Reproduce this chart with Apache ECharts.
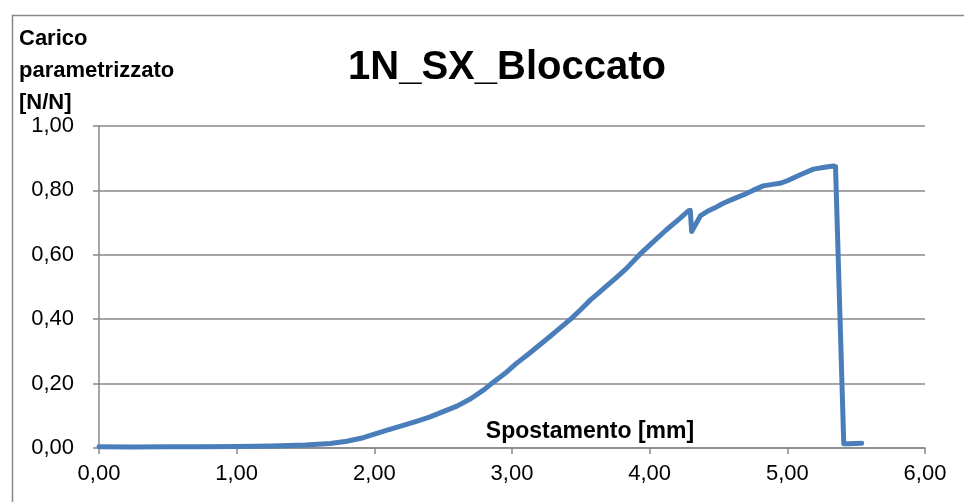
<!DOCTYPE html>
<html>
<head>
<meta charset="utf-8">
<script src="https://cdn.jsdelivr.net/npm/echarts@6/dist/echarts.min.js"></script>
<style>
html,body{margin:0;padding:0;background:#fff;}
#c{width:964px;height:502px;}
</style>
</head>
<body>
<div id="c"></div>
<script>
const titleText = '1N_SX_Bloccato';
const yAxisName = 'Carico\nparametrizzato\n[N/N]';
const xAxisName = 'Spostamento [mm]';
const displacement = [0.00,0.25,0.50,0.75,1.00,1.25,1.50,1.68,1.80,1.92,2.00,2.10,2.21,2.30,2.40,2.50,2.60,2.70,2.80,2.86,2.95,3.03,3.12,3.20,3.28,3.35,3.43,3.50,3.57,3.63,3.69,3.76,3.83,3.93,4.00,4.12,4.22,4.28,4.295,4.305,4.37,4.42,4.47,4.535,4.60,4.68,4.75,4.825,4.88,4.947,5.00,5.09,5.19,5.26,5.334,5.35,5.36,5.41,5.45,5.54];
const load = [0.004,0.003,0.004,0.004,0.005,0.006,0.009,0.014,0.021,0.032,0.043,0.056,0.070,0.082,0.096,0.113,0.130,0.153,0.182,0.203,0.232,0.262,0.292,0.320,0.348,0.373,0.402,0.430,0.460,0.482,0.504,0.530,0.557,0.602,0.630,0.677,0.713,0.736,0.738,0.672,0.722,0.735,0.745,0.760,0.772,0.786,0.800,0.814,0.818,0.822,0.830,0.848,0.866,0.871,0.876,0.874,0.870,0.013,0.013,0.015];

const FONT = '"Liberation Sans", Arial, sans-serif';
const fmt = v => v.toFixed(2).replace('.', ',');
const data = displacement.map((x, i) => [x, load[i]]);

const chart = echarts.init(document.getElementById('c'), null, {renderer: 'canvas'});
chart.setOption({
  animation: false,
  backgroundColor: '#fff',
  grid: {left: 99, right: 39, top: 126, bottom: 54, containLabel: false, outerBoundsMode: 'none'},
  xAxis: {
    type: 'value', min: 0, max: 6, interval: 1,
    axisLine: {show: true, onZero: false, lineStyle: {color: '#888', width: 1.5}},
    axisTick: {show: true, length: 6, lineStyle: {color: '#888', width: 1.5}},
    axisLabel: {formatter: fmt, color: '#000', fontSize: 22, fontFamily: FONT, margin: 15},
    splitLine: {show: false}
  },
  yAxis: {
    type: 'value', min: 0, max: 1, interval: 0.2,
    axisLine: {show: true, lineStyle: {color: '#888', width: 1.5}},
    axisTick: {show: true, length: 6, lineStyle: {color: '#888', width: 1.5}},
    axisLabel: {formatter: fmt, color: '#000', fontSize: 22, fontFamily: FONT, margin: 25},
    splitLine: {show: true, lineStyle: {color: '#888', width: 1.5}}
  },
  series: [{
    type: 'line',
    data: data,
    showSymbol: false,
    lineStyle: {color: '#4a7ebb', width: 5, cap: 'round', join: 'round'},
    itemStyle: {color: '#4a7ebb'}
  }],
  graphic: [
    {type: 'rect', left: 10, top: 13, shape: {width: 1000, height: 600}, style: {fill: 'none', stroke: '#888', lineWidth: 1.5}, silent: true},
    {type: 'text', x: 507, y: 68, style: {text: titleText, font: 'bold 40px ' + FONT, fill: '#000', textAlign: 'center', textVerticalAlign: 'middle'}},
    {type: 'text', x: 19, y: 23, style: {text: yAxisName, font: 'bold 22px ' + FONT, fill: '#000', lineHeight: 32, textAlign: 'left', textVerticalAlign: 'top'}},
    {type: 'text', x: 590, y: 432, style: {text: xAxisName, font: 'bold 23px ' + FONT, fill: '#000', textAlign: 'center', textVerticalAlign: 'middle'}}
  ]
});
</script>
</body>
</html>
